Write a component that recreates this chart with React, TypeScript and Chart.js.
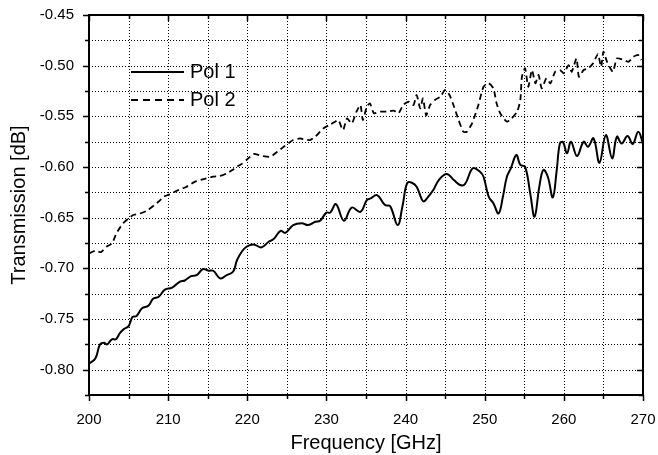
import React, { useEffect, useRef } from "react";
import { Chart, registerables } from "chart.js";

Chart.register(...registerables);

// ---- Data ----
const pol1Freq = [
  200.0, 200.8, 201.4, 201.9, 202.3, 202.9, 203.4, 203.9, 204.4, 205.0, 205.5, 206.0, 206.7, 207.5,
  208.1, 208.8, 209.6, 210.5, 211.5, 212.1, 212.9, 213.6, 214.4, 215.1, 215.7, 216.6, 217.4, 218.2,
  218.7, 219.3, 219.9, 220.8, 221.8, 222.7, 223.3, 224.2, 224.8, 225.8, 226.9, 227.7, 228.6, 229.2,
  230.0, 230.5, 231.2, 232.2, 233.2, 234.3, 235.1, 235.6, 236.4, 237.4, 238.05, 239.0, 239.6, 240.2,
  240.8, 241.4, 242.05, 242.3, 242.7, 243.5, 244.2, 245.2, 246.1, 246.9, 247.5, 248.5, 249.4, 249.85,
  250.5, 251.1, 251.75, 252.3, 252.8, 253.3, 254.0, 254.5, 255.1, 255.75, 256.3, 256.9, 257.4, 257.97,
  258.6, 259.1, 259.5, 259.9, 260.4, 260.9, 261.66, 262.5, 263.05, 263.75, 264.5, 265.3, 266.1, 266.7,
  267.3, 268.05, 268.7, 269.4, 270.0,
];
const pol1Vals = [
  -0.794, -0.789, -0.775, -0.7735, -0.775, -0.77, -0.77, -0.764, -0.76, -0.757, -0.748, -0.747, -0.7395, -0.737,
  -0.73, -0.728, -0.721, -0.719, -0.713, -0.712, -0.7077, -0.7067, -0.7007, -0.7024, -0.7024, -0.71, -0.7067, -0.7034,
  -0.692, -0.6836, -0.6787, -0.6764, -0.6793, -0.6738, -0.6714, -0.663, -0.665, -0.6573, -0.6556, -0.6573, -0.654, -0.653,
  -0.645, -0.645, -0.6366, -0.653, -0.64, -0.6442, -0.6326, -0.631, -0.6277, -0.6376, -0.6386, -0.6573, -0.639, -0.616,
  -0.6155, -0.6195, -0.632, -0.634, -0.631, -0.6227, -0.6129, -0.607, -0.6129, -0.6178, -0.617, -0.6013, -0.6046, -0.6096,
  -0.6293, -0.6359, -0.6458, -0.6293, -0.6096, -0.6013, -0.5882, -0.598, -0.5997, -0.626, -0.649, -0.6194, -0.603, -0.6096,
  -0.63, -0.603, -0.5767, -0.5755, -0.5865, -0.575, -0.5892, -0.575, -0.58, -0.5717, -0.5958, -0.5685, -0.5915, -0.5701,
  -0.5767, -0.5695, -0.5773, -0.5652, -0.5767,
];

const pol2Freq = [
  200.0, 200.8, 201.5, 202.2, 202.9, 203.5, 204.3, 205.0, 205.6, 206.4, 207.3, 208.2, 209.0, 209.4,
  210.2, 211.1, 212.2, 213.4, 214.5, 215.7, 216.5, 217.4, 218.1, 218.7, 219.3, 219.9, 220.8, 221.8,
  222.9, 223.8, 224.6, 225.8, 226.7, 227.1, 227.9, 228.6, 229.6, 230.5, 231.1, 231.5, 232.1, 232.6,
  233.2, 233.8, 234.3, 234.6, 235.1, 235.5, 236.0, 236.8, 237.6, 238.5, 239.1, 239.7, 240.4, 241.0,
  241.4, 241.85, 242.2, 242.6, 243.1, 243.7, 244.4, 245.0, 245.55, 246.05, 246.7, 247.3, 247.75, 248.4,
  249.2, 249.85, 250.5, 251.1, 251.5, 251.96, 252.8, 253.4, 254.1, 254.5, 254.7, 255.1, 255.5, 255.97,
  256.4, 256.8, 257.2, 257.8, 258.3, 258.9, 259.5, 260.0, 260.6, 261.0, 261.6, 261.9, 262.5, 263.1,
  263.7, 264.3, 264.7, 265.0, 265.45, 266.2, 266.7, 267.55, 268.2, 268.8, 269.4, 269.8,
];
const pol2Vals = [
  -0.6853, -0.6827, -0.684, -0.6787, -0.6754, -0.665, -0.6556, -0.6507, -0.6474, -0.646, -0.6432, -0.638, -0.6326, -0.6293,
  -0.627, -0.6234, -0.62, -0.6145, -0.612, -0.6096, -0.609, -0.6063, -0.603, -0.5997, -0.597, -0.5931, -0.5872, -0.589,
  -0.5899, -0.585, -0.58, -0.5734, -0.5717, -0.5727, -0.5734, -0.57, -0.5619, -0.558, -0.5553, -0.5536, -0.5635, -0.552,
  -0.557, -0.5454, -0.5388, -0.5536, -0.5405, -0.5372, -0.547, -0.5454, -0.5454, -0.5444, -0.547, -0.5388, -0.5356, -0.5388,
  -0.529, -0.5421, -0.5323, -0.549, -0.5388, -0.5339, -0.5306, -0.524, -0.529, -0.5388, -0.5536, -0.5652, -0.5652, -0.557,
  -0.5388, -0.5208, -0.5174, -0.5224, -0.5372, -0.547, -0.5553, -0.552, -0.5454, -0.5339, -0.511, -0.5026, -0.5208, -0.5043,
  -0.5174, -0.5092, -0.5224, -0.5125, -0.5174, -0.506, -0.5043, -0.5075, -0.4994, -0.506, -0.4928, -0.511, -0.5043, -0.5026,
  -0.4977, -0.4885, -0.501, -0.4862, -0.4961, -0.506, -0.4928, -0.4944, -0.4961, -0.4911, -0.4895, -0.4944,
];

const seriesNames = ["Pol 1", "Pol 2"];
const xMin = 200;
const xMax = 270;
const xStep = 5;
const yMin = -0.825;
const yMax = -0.45;
const yStep = 0.025;

const FONT = 'Arial, "Liberation Sans", sans-serif';

const framePlugin = {
  id: "frame",
  beforeDatasetsDraw(chart: any) {
    const { ctx, chartArea: a, scales } = chart;
    ctx.save();
    ctx.strokeStyle = "#000";
    ctx.lineWidth = 1;
    ctx.setLineDash([1, 2]);
    scales.x.ticks.forEach((t: any) => {
      if (t.value <= xMin + 1e-6 || t.value >= xMax - 1e-6) return;
      const px = Math.round(scales.x.getPixelForValue(t.value)) + 0.5;
      ctx.beginPath();
      ctx.moveTo(px, a.top);
      ctx.lineTo(px, a.bottom);
      ctx.stroke();
    });
    scales.y.ticks.forEach((t: any) => {
      if (t.value <= yMin + 1e-6 || t.value >= yMax - 1e-6) return;
      const py = Math.round(scales.y.getPixelForValue(t.value)) + 0.5;
      ctx.beginPath();
      ctx.moveTo(a.left, py);
      ctx.lineTo(a.right, py);
      ctx.stroke();
    });
    ctx.restore();
  },
  afterDatasetsDraw(chart: any) {
    const { ctx, chartArea: a, scales } = chart;
    ctx.save();
    ctx.setLineDash([]);
    ctx.strokeStyle = "#000";
    ctx.lineWidth = 1.5;
    scales.x.ticks.forEach((t: any) => {
      const major = Math.abs(t.value % 10) < 1e-6;
      const len = major ? 6 : 4;
      const px = Math.round(scales.x.getPixelForValue(t.value)) + 0.5;
      ctx.beginPath();
      ctx.moveTo(px, a.bottom);
      ctx.lineTo(px, a.bottom + len);
      ctx.moveTo(px, a.top);
      ctx.lineTo(px, a.top + len);
      ctx.stroke();
    });
    scales.y.ticks.forEach((t: any) => {
      const major = Math.abs(Math.round(t.value * 1000) % 50) === 0;
      const len = major ? 6 : 4;
      const py = Math.round(scales.y.getPixelForValue(t.value)) + 0.5;
      ctx.beginPath();
      ctx.moveTo(a.left, py);
      ctx.lineTo(a.left - len, py);
      ctx.moveTo(a.right, py);
      ctx.lineTo(a.right - len, py);
      ctx.stroke();
    });
    ctx.lineWidth = 2;
    ctx.strokeRect(a.left, a.top, a.right - a.left, a.bottom - a.top);

    // legend
    const lx = a.left + 42;
    const ly1 = a.top + 57;
    const ly2 = a.top + 85;
    ctx.lineWidth = 2;
    ctx.beginPath();
    ctx.moveTo(lx, ly1);
    ctx.lineTo(lx + 53, ly1);
    ctx.stroke();
    ctx.lineWidth = 1.8;
    ctx.setLineDash([7, 5]);
    ctx.beginPath();
    ctx.moveTo(lx, ly2);
    ctx.lineTo(lx + 53, ly2);
    ctx.stroke();
    ctx.setLineDash([]);
    ctx.fillStyle = "#000";
    ctx.font = `20px ${FONT}`;
    ctx.textBaseline = "middle";
    ctx.textAlign = "left";
    ctx.fillText(seriesNames[0], lx + 59, ly1);
    ctx.fillText(seriesNames[1], lx + 59, ly2);
    ctx.restore();
  },
};

export default function App() {
  const ref = useRef<HTMLCanvasElement>(null);
  useEffect(() => {
    if (!ref.current) return;
    Chart.defaults.font.family = FONT;
    const chart = new Chart(ref.current, {
      type: "line",
      data: {
        datasets: [
          {
            label: seriesNames[0],
            data: pol1Freq.map((f, i) => ({ x: f, y: pol1Vals[i] })),
            borderColor: "#000",
            borderWidth: 2,
            pointRadius: 0,
            tension: 0.4,
            fill: false,
          },
          {
            label: seriesNames[1],
            data: pol2Freq.map((f, i) => ({ x: f, y: pol2Vals[i] })),
            borderColor: "#000",
            borderWidth: 1.8,
            borderDash: [6, 4],
            pointRadius: 0,
            tension: 0.2,
            fill: false,
          },
        ],
      },
      options: {
        responsive: false,
        animation: false,
        layout: { padding: { top: 15, right: 15, left: 0, bottom: 0 } },
        plugins: { legend: { display: false }, tooltip: { enabled: false } },
        scales: {
          x: {
            type: "linear",
            min: xMin,
            max: xMax,
            afterFit: (s: any) => {
              s.height = 60;
              s.paddingLeft = 0;
              s.paddingRight = 0;
            },
            grid: { display: false },
            border: { display: false },
            ticks: {
              stepSize: xStep,
              autoSkip: false,
              maxRotation: 0,
              padding: 8,
              color: "#000",
              font: { size: 15 },
              callback: (v: any) => (Math.abs(Number(v) % 10) < 1e-6 ? String(Math.round(Number(v))) : ""),
            },
            title: {
              display: true,
              text: "Frequency [GHz]",
              color: "#000",
              font: { size: 20 },
              padding: { top: 0, bottom: 0 },
            },
          },
          y: {
            type: "linear",
            min: yMin,
            max: yMax,
            afterFit: (s: any) => {
              s.width = 89;
              s.paddingTop = 0;
              s.paddingBottom = 0;
            },
            grid: { display: false },
            border: { display: false },
            ticks: {
              stepSize: yStep,
              autoSkip: false,
              padding: 7,
              color: "#000",
              font: { size: 15 },
              callback: (v: any) => {
                const n = Number(v);
                return Math.abs(Math.round(n * 1000) % 50) === 0 ? n.toFixed(2) : "";
              },
            },
            title: {
              display: true,
              text: "Transmission [dB]",
              color: "#000",
              font: { size: 20 },
              padding: { top: 7, bottom: 0 },
            },
          },
        },
      },
      plugins: [framePlugin],
    });
    return () => chart.destroy();
  }, []);
  return (
    <div style={{ position: "fixed", left: 0, top: 0, width: 658, height: 455, background: "#fff" }}>
      <canvas ref={ref} width={658} height={455} style={{ width: 658, height: 455, display: "block" }} />
    </div>
  );
}
